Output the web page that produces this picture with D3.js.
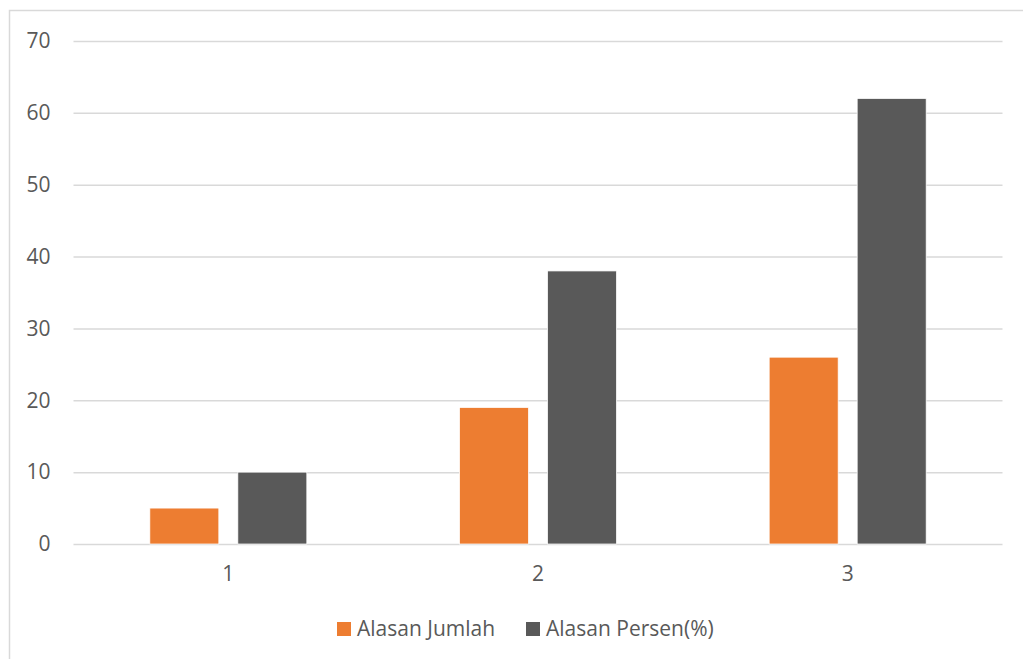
<!DOCTYPE html>
<html>
<head>
<meta charset="utf-8">
<script src="https://cdn.jsdelivr.net/npm/d3@7"></script>
<style>
  html, body { margin: 0; padding: 0; background: #fff; }
  svg { display: block; }
  text { font-family: "Open Sans", sans-serif; fill: #595959; }
</style>
</head>
<body>
<svg id="chart" width="1023" height="659"></svg>
<script>
// Chart data
const categories = ["1", "2", "3"];
const seriesNames = ["Alasan Jumlah", "Alasan Persen(%)"];
const alasanJumlah = [5, 19, 26];
const alasanPersen = [10, 38, 62];
const yTicks = [0, 10, 20, 30, 40, 50, 60, 70];
const colors = ["#ED7D31", "#595959"];

const seriesValues = [alasanJumlah, alasanPersen];
const rows = categories.map((c, i) => ({
  category: c,
  values: seriesNames.map((s, j) => ({ series: s, value: seriesValues[j][i] }))
}));

const svg = d3.select("#chart");
const plot = { left: 73.5, right: 1002.5, top: 41, bottom: 544 };
const fontSize = 21;

// Outer frame
svg.append("rect")
  .attr("x", 9.5).attr("y", 10.5)
  .attr("width", 1040).attr("height", 700)
  .attr("fill", "none")
  .attr("stroke", "#d9d9d9")
  .attr("stroke-width", 1.5);

const x0 = d3.scaleBand()
  .domain(categories)
  .range([plot.left, plot.right])
  .paddingInner(0.493)
  .paddingOuter(0.2465);

const x1 = d3.scaleBand()
  .domain(seriesNames)
  .range([0, x0.bandwidth()])
  .paddingInner(0.216)
  .paddingOuter(0);

const y = d3.scaleLinear()
  .domain([0, 70])
  .range([plot.bottom, plot.top]);

const color = d3.scaleOrdinal().domain(seriesNames).range(colors);

// Horizontal gridlines and y labels
const yAxis = d3.axisLeft(y)
  .tickValues(yTicks)
  .tickSize(-(plot.right - plot.left))
  .tickPadding(23)
  .tickFormat(d3.format("d"));

const gy = svg.append("g")
  .attr("transform", `translate(${plot.left},0)`)
  .call(yAxis);
gy.select(".domain").remove();
gy.selectAll(".tick line")
  .attr("stroke", "#d9d9d9")
  .attr("stroke-width", 1.5);
gy.selectAll(".tick text")
  .attr("font-size", fontSize)
  .style("font-family", "'Open Sans', sans-serif")
  .attr("fill", "#595959");

// Bars
const groups = svg.append("g")
  .selectAll("g")
  .data(rows)
  .join("g")
  .attr("transform", d => `translate(${x0(d.category)},0)`);

groups.selectAll("rect")
  .data(d => d.values)
  .join("rect")
  .attr("x", d => x1(d.series))
  .attr("y", d => y(d.value))
  .attr("width", x1.bandwidth())
  .attr("height", d => y(0) - y(d.value))
  .attr("fill", d => color(d.series))
  .attr("stroke", "#ffffff")
  .attr("stroke-width", 0.75);

// Category labels
const xAxis = d3.axisBottom(x0).tickSize(0).tickPadding(22);
const gx = svg.append("g")
  .attr("transform", `translate(0,${plot.bottom})`)
  .call(xAxis);
gx.select(".domain").remove();
gx.selectAll(".tick text")
  .attr("font-size", fontSize)
  .style("font-family", "'Open Sans', sans-serif")
  .attr("fill", "#595959");

// Legend
const legendItems = [
  { name: seriesNames[0], x: 337 },
  { name: seriesNames[1], x: 526 }
];
const legend = svg.append("g");
legendItems.forEach(item => {
  legend.append("rect")
    .attr("x", item.x).attr("y", 622)
    .attr("width", 14).attr("height", 14)
    .attr("fill", color(item.name));
  legend.append("text")
    .attr("x", item.x + 20).attr("y", 636)
    .attr("font-size", fontSize)
    .text(item.name);
});
</script>
</body>
</html>
